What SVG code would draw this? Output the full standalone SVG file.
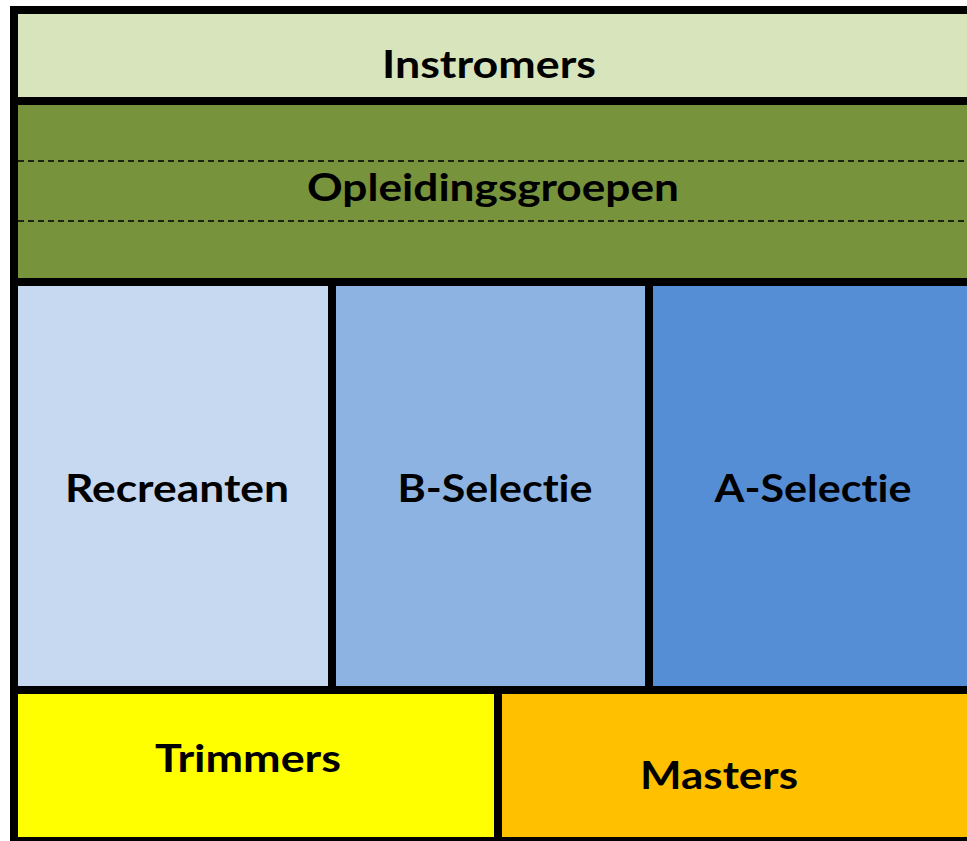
<svg xmlns="http://www.w3.org/2000/svg" width="967" height="841" viewBox="0 0 967 841">
<style>
.lbl{font-family:Lato,"Open Sans","Liberation Sans",sans-serif;font-weight:bold;font-size:38px;fill:#000;text-anchor:middle;font-variant-ligatures:none;font-feature-settings:"liga" 0,"dlig" 0}
.dash{stroke:#000;stroke-width:1.5;stroke-dasharray:6 4;fill:none}
</style>
<rect x="0" y="0" width="967" height="841" fill="#fff"/>
<rect x="10" y="6" width="957" height="835" fill="#000"/>
<g id="instromers">
<rect x="18" y="14" width="949" height="83" fill="#D8E4BC"/>
<text class="lbl" x="489" y="78" textLength="214" lengthAdjust="spacingAndGlyphs">Instromers</text>
</g>
<g id="opleidingsgroepen">
<rect x="18" y="105" width="949" height="173" fill="#77933C"/>
<line class="dash" x1="18" y1="161" x2="967" y2="161"/>
<line class="dash" x1="18" y1="221" x2="967" y2="221"/>
<text class="lbl" x="493" y="201" textLength="372" lengthAdjust="spacingAndGlyphs">Opleidingsgroepen</text>
</g>
<g id="recreanten">
<rect x="18" y="286" width="310" height="400" fill="#C6D9F1"/>
<text class="lbl" x="177" y="502" textLength="224" lengthAdjust="spacingAndGlyphs">Recreanten</text>
</g>
<g id="b-selectie">
<rect x="336" y="286" width="309" height="400" fill="#8DB3E2"/>
<text class="lbl" x="495" y="502" textLength="195" lengthAdjust="spacingAndGlyphs">B-Selectie</text>
</g>
<g id="a-selectie">
<rect x="653" y="286" width="314" height="400" fill="#558ED5"/>
<text class="lbl" x="813" y="502" textLength="197" lengthAdjust="spacingAndGlyphs">A-Selectie</text>
</g>
<g id="trimmers">
<rect x="18" y="694" width="476" height="143" fill="#FFFF00"/>
<text class="lbl" x="248" y="772" textLength="186" lengthAdjust="spacingAndGlyphs">Trimmers</text>
</g>
<g id="masters">
<rect x="502" y="694" width="465" height="143" fill="#FFC000"/>
<text class="lbl" x="719" y="789" textLength="158" lengthAdjust="spacingAndGlyphs">Masters</text>
</g>
<g id="connectors"></g>
</svg>
